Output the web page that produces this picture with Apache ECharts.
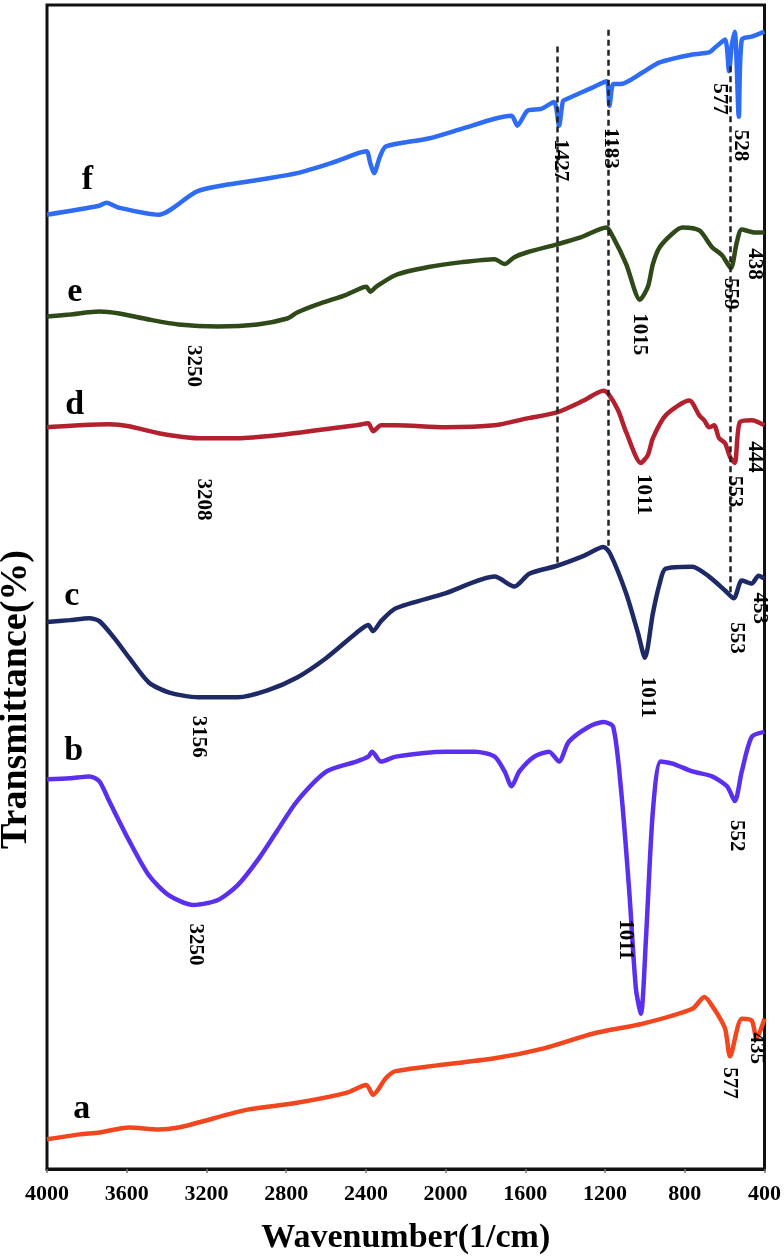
<!DOCTYPE html>
<html><head><meta charset="utf-8">
<script src="https://cdn.jsdelivr.net/npm/echarts@6/dist/echarts.min.js"></script>
<style>html,body{margin:0;padding:0;background:#fff}#c{width:784px;height:1260px}</style>
</head><body><div id="c"></div><script>
// wavenumbers (1/cm) and transmittance (arbitrary, offset) for each sample
const waveA = [4000,3836,3737,3588,3440,3340,3241,2994,2745,2498,2398,2364,2299,2250,1754,1506,1258,1010,762,702,653,598,573,514,464,440,400];
const transA = [30,35,37,42,40,42,47,60,67,77,85,75,92,99,112,122,137,147,162,174,162,142,114,152,150,132,152];

const waveB = [4000,3886,3787,3737,3688,3588,3489,3390,3266,3142,3043,2944,2845,2745,2597,2448,2388,2369,2324,2250,2002,1853,1754,1704,1669,1630,1555,1481,1431,1382,1283,1208,1159,1119,1079,1045,1020,995,960,921,861,762,663,588,549,514,464,400];
const transB = [394,395,397,392,372,332,297,277,267,272,287,312,342,372,402,412,417,422,412,417,422,422,417,402,387,402,417,422,412,432,447,452,447,382,282,182,157,232,362,412,410,402,397,387,372,402,437,442];

const waveC = [4000,3886,3787,3737,3663,3588,3489,3390,3241,3043,2894,2745,2597,2448,2388,2364,2324,2250,2002,1754,1655,1580,1441,1307,1208,1174,1094,1035,1000,960,926,896,762,678,598,554,514,464,430,400];
const transC = [553,555,557,554,537,517,492,482,477,477,484,497,517,542,550,544,554,567,582,599,589,602,610,620,629,622,582,542,517,562,592,607,609,599,585,577,595,592,600,597];

const waveD = [4000,3836,3688,3588,3440,3241,3043,2845,2646,2448,2388,2364,2324,2250,2002,1754,1590,1441,1307,1208,1184,1134,1094,1020,985,960,896,777,727,702,678,653,628,598,573,549,524,464,400];
const transD = [750,752,753,751,744,739,739,742,747,752,754,746,752,752,750,752,759,765,777,787,784,767,745,714,722,739,762,777,762,757,750,752,739,734,720,714,755,757,752];

const waveE = [4000,3886,3737,3638,3489,3340,3142,2944,2795,2745,2646,2498,2398,2378,2349,2250,2086,1917,1754,1704,1655,1590,1441,1322,1193,1159,1094,1025,985,960,926,861,812,727,663,613,569,539,514,450,400];
const transE = [862,864,867,865,859,854,852,854,860,866,874,884,892,887,892,904,912,917,920,915,922,927,935,942,952,942,915,879,892,915,932,946,952,949,932,924,911,937,950,947,947];

const waveF = [4000,3737,3702,3638,3440,3241,2944,2745,2547,2398,2378,2359,2329,2299,2086,1917,1754,1669,1640,1590,1521,1456,1431,1411,1392,1258,1193,1178,1159,1124,1010,926,762,678,648,598,578,564,549,529,514,464,400];
const transF = [965,974,977,972,965,989,1000,1007,1019,1029,1017,1007,1024,1034,1042,1052,1062,1065,1055,1070,1072,1079,1055,1080,1082,1094,1100,1075,1097,1097,1109,1119,1127,1129,1134,1142,1110,1137,1150,1064,1142,1145,1150];

// sample letters
const sampleNames = ['a','b','c','d','e','f'];
const nameWave = [3826,3866,3876,3861,3861,3797];
const nameLevel = [60,422,579,772,887,1000];

// peak annotations
const peakText = ['1427','1183','577','528','3250','1015','559','438','3208','1011','553','444','3156','1011','553','453','3250','1011','552','577','435'];
const peakWave = [1426,1174,628,519,3266,1030,569,450,3217,1010,549,450,3241,985,539,425,3256,1099,539,578,440];
const peakLevel = [1020,1032,1082,1035,812,844,885,915,677,682,685,720,437,477,537,567,227,232,337,87,122];

// dashed guide lines: wavenumber, top level, bottom level
const guideWave = [1440,1184,573];
const guideTop = [1135,1152,1115];
const guideBottom = [610,627,582];

const colors = {a:'#f2461e', b:'#5a30ee', c:'#1e2a66', d:'#b3202e', e:'#2f4a18', f:'#2f6cf4'};
const waves = {a:waveA,b:waveB,c:waveC,d:waveD,e:waveE,f:waveF};
const trans = {a:transA,b:transB,c:transC,d:transD,e:transE,f:transF};
const serif = 'Liberation Serif';

const series = sampleNames.map(n => ({
  type:'line', name:n, showSymbol:false, smooth:0.25, silent:true,
  data: waves[n].map((w,i)=>[w, trans[n][i]]),
  lineStyle:{color:colors[n], width:4.5}, z:3
}));
series.push({
  type:'line', data:[], silent:true,
  markLine:{symbol:['none','none'], silent:true, label:{show:false},
    lineStyle:{type:[6,4], color:'#222', width:2.5},
    data: guideWave.map((w,i)=>[{coord:[w,guideTop[i]]},{coord:[w,guideBottom[i]]}])}
});
series.push({
  type:'scatter', symbolSize:0, silent:true, z:5, itemStyle:{opacity:1, color:'#000'},
  data: peakWave.map((w,i)=>[w, peakLevel[i], peakText[i]]),
  label:{show:true, position:'inside', rotate:-90, formatter:p=>p.data[2],
    fontFamily:serif, fontWeight:'bold', fontSize:21, color:'#000', opacity:1}
});
series.push({
  type:'scatter', symbolSize:0, silent:true, z:5, itemStyle:{opacity:1, color:'#000'},
  data: nameWave.map((w,i)=>[w, nameLevel[i], sampleNames[i]]),
  label:{show:true, position:'inside', formatter:p=>p.data[2],
    fontFamily:serif, fontWeight:'bold', fontSize:34, color:'#000', opacity:1}
});

const chart = echarts.init(document.getElementById('c'), null, {renderer:'canvas'});
chart.setOption({
  animation:false,
  backgroundColor:'#fff',
  grid:{left:47, right:11, top:5, bottom:78, show:true, borderColor:'#111', borderWidth:3, backgroundColor:'transparent'},
  xAxis:{type:'value', min:400, max:4000, interval:400, inverse:true,
    name:'Wavenumber(1/cm)', nameLocation:'middle', nameGap:52,
    nameTextStyle:{fontFamily:serif, fontWeight:'bold', fontSize:34, color:'#000'},
    axisLine:{show:true, lineStyle:{color:'#111', width:3}},
    axisTick:{show:true, length:4, lineStyle:{color:'#777', width:1.5}},
    axisLabel:{fontFamily:serif, fontWeight:'bold', fontSize:22, color:'#000', margin:14, formatter:v=>String(v)},
    splitLine:{show:false}},
  yAxis:{type:'value', min:0, max:1177, show:true,
    axisLine:{show:false}, axisTick:{show:false}, axisLabel:{show:false}, splitLine:{show:false}},
  graphic:[{type:'text', left:-3, top:550, rotation:Math.PI/2,
    style:{text:'Transmittance(%)', font:'bold 38px "Liberation Serif"', fill:'#000'}}],
  series
});
</script></body></html>
